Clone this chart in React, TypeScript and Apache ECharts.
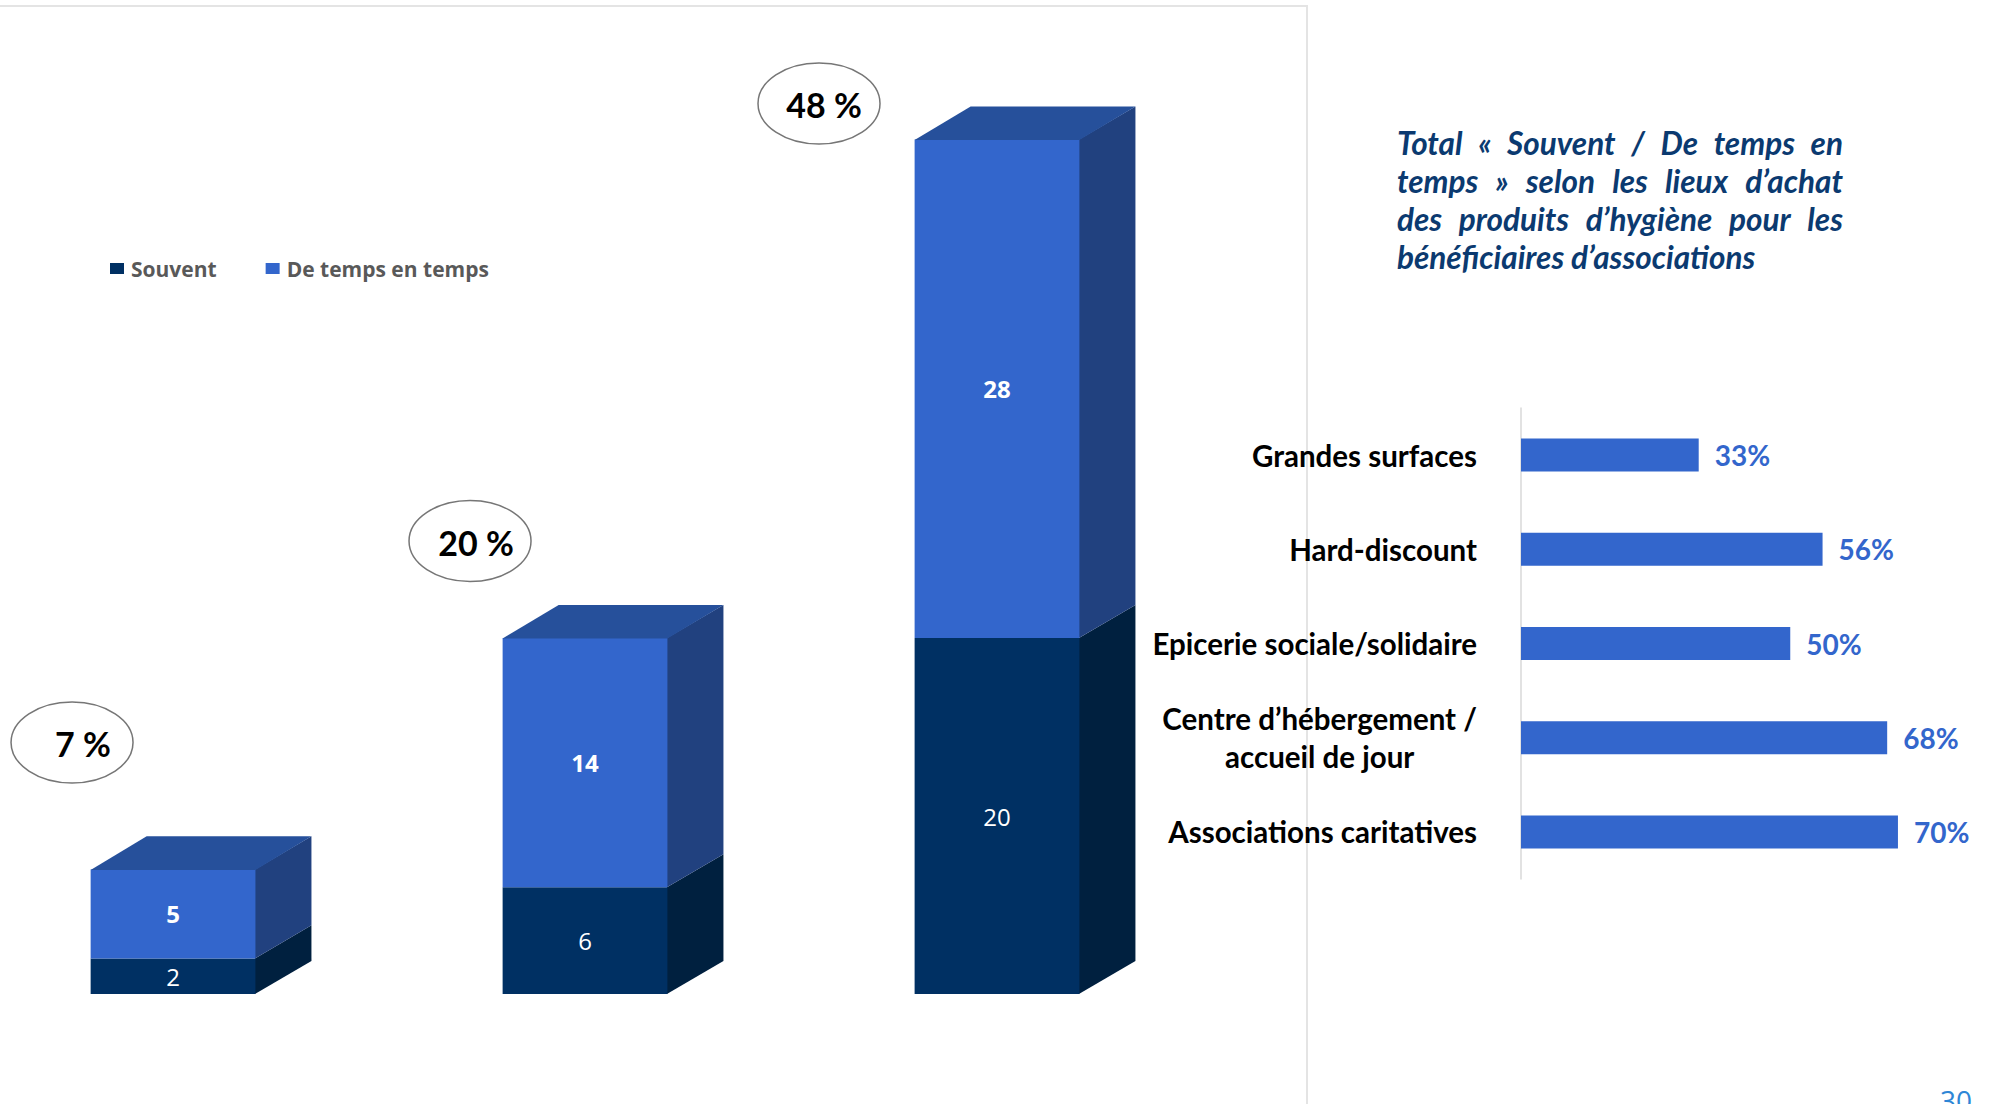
import React, { useEffect, useRef } from 'react';
import * as echarts from 'echarts';

// ---------- data ----------
const groups = [0, 1, 2];
const souvent = [2, 6, 20];
const deTempsEnTemps = [5, 14, 28];
const seriesNames = ['Souvent', 'De temps en temps'];

const lieux = [
  'Grandes surfaces',
  'Hard-discount',
  'Epicerie sociale/solidaire',
  'Centre d’hébergement /\naccueil de jour',
  'Associations caritatives',
];
const lieuxValues = [33, 56, 50, 68, 70];

const titleLines = [
  'Total « Souvent / De temps en',
  'temps » selon les lieux d’achat',
  'des produits d’hygiène pour les',
  'bénéficiaires d’associations',
];
const pageNumber = '30';

// ---------- layout / style ----------
// [ellipse dx, ellipse dy, text dx] relative to the front-top centre of each bar
const bubbleOffsets = [
  [-101, -127, 11],
  [-115, -97, 6],
  [-178, -36, 5],
];
const C = {
  lightFront: '#3366CC',
  lightSide: '#21417F',
  lightTop: '#26509B',
  darkFront: '#003063',
  darkSide: '#00203F',
  darkTop: '#002850',
};
const FONT = 'Lato, "Open Sans", sans-serif';

function segmentRenderer(front: string, side: string, top: string, drawTop: boolean, bold: boolean) {
  return (params: any, api: any) => {
    const i = api.value(0);
    const lo = api.value(1);
    const hi = api.value(2);
    const v = api.value(3);
    const band = api.size([1, 0])[0];
    const w = band * 0.4;
    const dx = band * 0.136;
    const dy = dx * 0.59;
    const pLo = api.coord([i, lo]);
    const pHi = api.coord([i, hi]);
    const xl = pLo[0] - w / 2;
    const xr = pLo[0] + w / 2;
    const children: any[] = [
      {
        type: 'polygon',
        shape: { points: [[xr - 0.5, pHi[1]], [xr + dx, pHi[1] - dy], [xr + dx, pLo[1] - dy], [xr - 0.5, pLo[1]]] },
        style: { fill: side },
      },
      {
        type: 'rect',
        shape: { x: xl, y: pHi[1], width: w, height: pLo[1] - pHi[1] },
        style: { fill: front },
      },
    ];
    if (drawTop) {
      children.push({
        type: 'polygon',
        shape: { points: [[xl, pHi[1] + 0.5], [xl + dx, pHi[1] - dy], [xr + dx, pHi[1] - dy], [xr, pHi[1] + 0.5]] },
        style: { fill: top },
      });
    }
    children.push({
      type: 'text',
      style: {
        text: String(v),
        x: pLo[0],
        y: (pLo[1] + pHi[1]) / 2,
        align: 'center',
        verticalAlign: 'middle',
        fill: '#FFFFFF',
        fontSize: 24,
        fontWeight: bold ? 'bold' : 'normal',
        fontFamily: '"Open Sans", sans-serif',
      },
    });
    return { type: 'group', children };
  };
}

function bubbleRenderer(params: any, api: any) {
  const i = api.value(0);
  const t = api.value(1);
  const p = api.coord([i, t]);
  const off = bubbleOffsets[params.dataIndex];
  const cx = p[0] + off[0];
  const cy = p[1] + off[1];
  return {
    type: 'group',
    children: [
      {
        type: 'ellipse',
        shape: { cx, cy, rx: 61, ry: 40.5 },
        style: { fill: '#FFFFFF', stroke: '#767676', lineWidth: 1.5 },
      },
      {
        type: 'text',
        style: {
          text: `${t} %`,
          x: cx + off[2],
          y: cy + 1,
          align: 'center',
          verticalAlign: 'middle',
          fill: '#000000',
          fontSize: 34,
          fontWeight: 'bold',
          fontFamily: FONT,
        },
      },
    ],
  };
}

function buildTitle(): any[] {
  const left = 1397;
  const right = 1843;
  const fs = 31.5;
  const lineY = [143, 181, 219, 257];
  const ctx = document.createElement('canvas').getContext('2d') as CanvasRenderingContext2D;
  ctx.font = `italic bold ${fs}px Lato`;
  const out: any[] = [];
  titleLines.forEach((line, li) => {
    const words = line.split(' ');
    const widths = words.map((w) => ctx.measureText(w).width);
    const total = widths.reduce((a, b) => a + b, 0);
    const justify = li < titleLines.length - 1;
    const gap = justify ? (right - left - total) / (words.length - 1) : ctx.measureText(' ').width;
    let x = left;
    words.forEach((w, wi) => {
      out.push({
        type: 'text',
        style: {
          text: w,
          x,
          y: lineY[li],
          align: 'left',
          verticalAlign: 'middle',
          fill: '#0B3A70',
          fontSize: fs,
          fontStyle: 'italic',
          fontWeight: 'bold',
          fontFamily: 'Lato',
        },
      });
      x += widths[wi] + gap;
    });
  });
  return out;
}

export default function App() {
  const ref = useRef<HTMLDivElement>(null);
  useEffect(() => {
    if (!ref.current) return;
    const chart = echarts.init(ref.current, null, { renderer: 'svg' });
    const totals = souvent.map((v, i) => v + deTempsEnTemps[i]);
    const labelRich = {
      n: { fontSize: 29.5, fontWeight: 'bold', color: '#000000', fontFamily: FONT, lineHeight: 38 },
      c: { fontSize: 29.5, fontWeight: 'bold', color: '#000000', fontFamily: FONT, lineHeight: 38, align: 'center' },
    };
    const option: any = {
      animation: false,
      backgroundColor: '#FFFFFF',
      legend: {
        data: seriesNames,
        left: 110,
        top: 258,
        padding: 0,
        icon: 'rect',
        itemWidth: 14,
        itemHeight: 11,
        itemGap: 49,
        textStyle: { color: '#595959', fontSize: 21, fontWeight: 'bold', fontFamily: '"Open Sans", sans-serif', padding: [0, 0, 0, 2] },
      },
      grid: [
        { left: 0, right: 786, top: 15, bottom: 110 },
        { left: 1521, width: 430.8, top: 408, height: 471 },
      ],
      xAxis: [
        { type: 'value', gridIndex: 0, min: -0.42, max: 2.5, show: false },
        { type: 'value', gridIndex: 1, min: 0, max: 80, show: false },
      ],
      yAxis: [
        { type: 'value', gridIndex: 0, min: 0, max: 55, show: false },
        {
          type: 'category',
          gridIndex: 1,
          data: lieux,
          inverse: true,
          axisLine: { show: true, lineStyle: { color: '#D9D9D9', width: 1.5 } },
          axisTick: { show: false },
          axisLabel: {
            margin: 44,
            formatter: (val: string) =>
              val.includes('\n') ? val.split('\n').map((l) => `{c|${l}}`).join('\n') : `{n|${val}}`,
            rich: labelRich,
          },
        },
      ],
      series: [
        {
          name: seriesNames[0],
          type: 'custom',
          xAxisIndex: 0,
          yAxisIndex: 0,
          color: C.darkFront,
          itemStyle: { color: C.darkFront },
          renderItem: segmentRenderer(C.darkFront, C.darkSide, C.darkTop, false, false),
          encode: { x: 0, y: [1, 2] },
          data: souvent.map((v, i) => [groups[i], 0, v, v]),
        },
        {
          name: seriesNames[1],
          type: 'custom',
          xAxisIndex: 0,
          yAxisIndex: 0,
          color: C.lightFront,
          itemStyle: { color: C.lightFront },
          renderItem: segmentRenderer(C.lightFront, C.lightSide, C.lightTop, true, true),
          encode: { x: 0, y: [1, 2] },
          data: deTempsEnTemps.map((v, i) => [groups[i], souvent[i], souvent[i] + v, v]),
        },
        {
          name: 'Total',
          type: 'custom',
          xAxisIndex: 0,
          yAxisIndex: 0,
          renderItem: bubbleRenderer,
          encode: { x: 0, y: 1 },
          data: totals.map((t, i) => [groups[i], t]),
        },
        {
          name: 'Lieux',
          type: 'bar',
          xAxisIndex: 1,
          yAxisIndex: 1,
          barWidth: 33,
          itemStyle: { color: '#3366CC' },
          label: {
            show: true,
            position: 'right',
            distance: 16,
            formatter: '{c}%',
            color: '#3366CC',
            fontSize: 28,
            fontWeight: 'bold',
            fontFamily: FONT,
          },
          data: lieuxValues,
        },
      ],
      graphic: [
        { type: 'line', shape: { x1: 0, y1: 6, x2: 1307, y2: 6 }, style: { stroke: '#E4E4E4', lineWidth: 2 } },
        { type: 'line', shape: { x1: 1307, y1: 5, x2: 1307, y2: 1104 }, style: { stroke: '#E4E4E4', lineWidth: 2 } },
        ...buildTitle(),
        {
          type: 'text',
          style: {
            text: pageNumber,
            x: 1940,
            y: 1086,
            align: 'left',
            verticalAlign: 'top',
            fill: '#2E86D6',
            fontSize: 28,
            fontFamily: '"Open Sans", sans-serif',
          },
        },
      ],
    };
    chart.setOption(option);
    return () => chart.dispose();
  }, []);
  return <div ref={ref} style={{ position: 'fixed', left: 0, top: 0, width: 1989, height: 1104 }} />;
}
